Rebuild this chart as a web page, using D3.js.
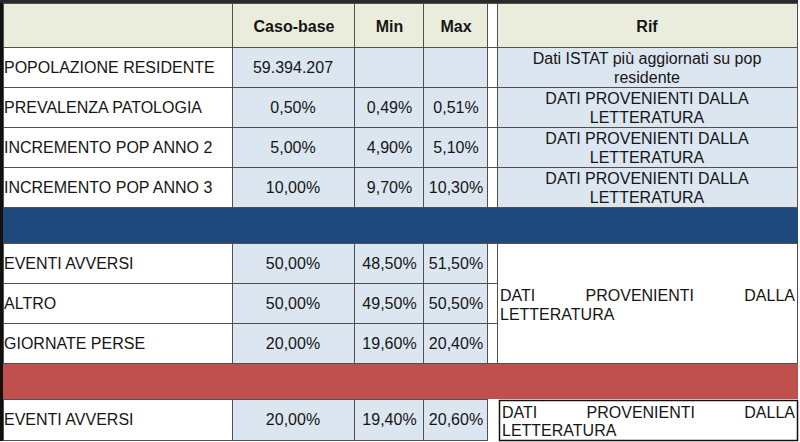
<!DOCTYPE html>
<meta charset="utf-8">
<head>
<script src="https://d3js.org/d3.v7.min.js"></script>
<style>
  body { margin: 0; background: #fff; }
  text { font-family: "Liberation Sans", Arial, sans-serif; font-size: 16px; fill: #151515; }
</style>
</head>
<body>
<div id="tab"></div>
<script>
// table content
var header = ["", "Caso-base", "Min", "Max", "Rif"];

var labels1 = ["POPOLAZIONE RESIDENTE", "PREVALENZA PATOLOGIA", "INCREMENTO POP ANNO 2", "INCREMENTO POP ANNO 3"];
var base1 = ["59.394.207", "0,50%", "5,00%", "10,00%"];
var min1 = ["", "0,49%", "4,90%", "9,70%"];
var max1 = ["", "0,51%", "5,10%", "10,30%"];
var rif1 = [["Dati ISTAT più aggiornati su pop", "residente"],
            ["DATI PROVENIENTI DALLA", "LETTERATURA"],
            ["DATI PROVENIENTI DALLA", "LETTERATURA"],
            ["DATI PROVENIENTI DALLA", "LETTERATURA"]];

var labels2 = ["EVENTI AVVERSI", "ALTRO", "GIORNATE PERSE"];
var base2 = ["50,00%", "50,00%", "20,00%"];
var min2 = ["48,50%", "49,50%", "19,60%"];
var max2 = ["51,50%", "50,50%", "20,40%"];
var rif2 = ["DATI PROVENIENTI DALLA", "LETTERATURA"];

var labels3 = ["EVENTI AVVERSI"];
var base3 = ["20,00%"];
var min3 = ["19,40%"];
var max3 = ["20,60%"];
var rif3 = ["DATI PROVENIENTI DALLA", "LETTERATURA"];

// layout
var W = 800, H = 442;
var colEdges = [3, 232, 354, 423, 487, 497, 797];
var rowEdges = [3, 47, 87, 127, 167, 207, 243, 283, 323, 363, 399, 440];

var x = d3.scaleOrdinal().domain(d3.range(colEdges.length)).range(colEdges);
var y = d3.scaleOrdinal().domain(d3.range(rowEdges.length)).range(rowEdges);

var cHead = "#eaeddc", cBlue = "#dce6f1", cLine = "#505050";
var cBand1 = "#1f497d", cBand2 = "#c0504d";

var svg = d3.select("#tab").append("svg")
    .attr("width", W).attr("height", H)
    .style("display", "block");

var grid = svg.append("g");
var txt = svg.append("g");

function cell(c0, c1, r0, r1, fill) {
  grid.append("rect")
    .attr("x", x(c0) + 0.5).attr("y", y(r0) + 0.5)
    .attr("width", x(c1) - x(c0)).attr("height", y(r1) - y(r0))
    .attr("fill", fill)
    .attr("stroke", cLine).attr("stroke-width", 1);
}

function label(str, px, py, anchor, bold) {
  txt.append("text")
    .attr("x", px).attr("y", py)
    .attr("text-anchor", anchor)
    .attr("dominant-baseline", "central")
    .style("font-weight", bold ? "bold" : null)
    .text(str);
}

// spread words across a width, like justified text
function justify(str, x0, x1, py) {
  var words = str.split(" ");
  var tmp = words.map(function(w) {
    return txt.append("text").attr("y", py).attr("dominant-baseline", "central").text(w);
  });
  var widths = tmp.map(function(t) { return t.node().getComputedTextLength(); });
  var gap = (x1 - x0 - d3.sum(widths)) / (words.length - 1);
  var cx = x0;
  tmp.forEach(function(t, i) { t.attr("x", cx); cx += widths[i] + gap; });
}

function mid(a, b) { return (a + b) / 2; }

// header row
cell(0, 1, 0, 1, cHead);
cell(1, 2, 0, 1, cHead);
cell(2, 3, 0, 1, cHead);
cell(3, 4, 0, 1, cHead);
cell(4, 5, 0, 1, "#fff");
cell(5, 6, 0, 1, cHead);
[1, 2, 3].forEach(function(c) {
  label(header[c], mid(x(c), x(c + 1)) + 1, mid(y(0), y(1)) + 1, "middle", true);
});
label(header[4], mid(x(5), x(6)), mid(y(0), y(1)) + 1, "middle", true);

// first block
labels1.forEach(function(d, i) {
  var r = i + 1, cy = mid(y(r), y(r + 1));
  cell(0, 1, r, r + 1, "#fff");
  cell(1, 2, r, r + 1, cBlue);
  cell(2, 3, r, r + 1, cBlue);
  cell(3, 4, r, r + 1, cBlue);
  cell(4, 5, r, r + 1, "#fff");
  cell(5, 6, r, r + 1, cBlue);
  label(d, x(0) + 1, cy, "start");
  label(base1[i], mid(x(1), x(2)), cy, "middle");
  label(min1[i], mid(x(2), x(3)) + 1, cy, "middle");
  label(max1[i], mid(x(3), x(4)) + 1, cy, "middle");
  label(rif1[i][0], mid(x(5), x(6)), cy - 9, "middle");
  label(rif1[i][1], mid(x(5), x(6)), cy + 10, "middle");
});

// blue separator
grid.append("rect")
  .attr("x", x(0)).attr("y", y(5) + 1)
  .attr("width", x(6) - x(0) + 1).attr("height", y(6) - y(5) - 1)
  .attr("fill", cBand1);

// second block
labels2.forEach(function(d, i) {
  var r = i + 6, cy = mid(y(r), y(r + 1));
  cell(0, 1, r, r + 1, "#fff");
  cell(1, 2, r, r + 1, cBlue);
  cell(2, 3, r, r + 1, cBlue);
  cell(3, 4, r, r + 1, cBlue);
  cell(4, 5, r, r + 1, "#fff");
  label(d, x(0) + 1, cy, "start");
  label(base2[i], mid(x(1), x(2)), cy, "middle");
  label(min2[i], mid(x(2), x(3)) + 1, cy, "middle");
  label(max2[i], mid(x(3), x(4)) + 1, cy, "middle");
});
cell(5, 6, 6, 9, "#fff");
justify(rif2[0], x(5) + 3, x(6) - 2, mid(y(6), y(9)) - 8);
label(rif2[1], x(5) + 3, mid(y(6), y(9)) + 11, "start");

// red separator
grid.append("rect")
  .attr("x", x(0)).attr("y", y(9) + 1)
  .attr("width", x(6) - x(0) + 1).attr("height", y(10) - y(9) - 1)
  .attr("fill", cBand2);

// third block
labels3.forEach(function(d, i) {
  var r = i + 10, cy = mid(y(r), y(r + 1));
  cell(0, 1, r, r + 1, "#fff");
  cell(1, 2, r, r + 1, cBlue);
  cell(2, 3, r, r + 1, cBlue);
  cell(3, 4, r, r + 1, cBlue);
  grid.append("rect")
    .attr("x", x(5) + 2.5).attr("y", y(r) + 1.5)
    .attr("width", x(6) - x(5) - 2).attr("height", y(r + 1) - y(r) - 1)
    .attr("fill", "#fff").attr("stroke", "#111").attr("stroke-width", 1.5);
  label(d, x(0) + 1, cy, "start");
  label(base3[i], mid(x(1), x(2)), cy, "middle");
  label(min3[i], mid(x(2), x(3)) + 1, cy, "middle");
  label(max3[i], mid(x(3), x(4)) + 1, cy, "middle");
  justify(rif3[0], x(5) + 5, x(6) - 2, cy - 7);
  label(rif3[1], x(5) + 5, cy + 11, "start");
});

// heavy outer edges (left and top)
svg.append("rect").attr("x", 0).attr("y", 0).attr("width", 3).attr("height", y(11) + 1).attr("fill", "#111");
svg.append("rect").attr("x", 0).attr("y", 0).attr("width", x(6) + 1).attr("height", 3).attr("fill", "#2a2a2a");
</script>
</body>
